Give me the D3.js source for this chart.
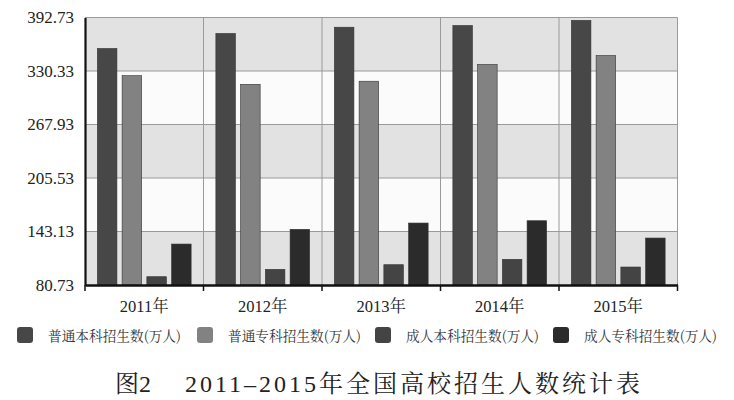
<!DOCTYPE html>
<html><head><meta charset="utf-8">
<script src="https://cdn.jsdelivr.net/npm/d3@7"></script>
<style>body{margin:0;background:#fff}svg{display:block}</style>
</head><body>
<svg id="c" width="734" height="400"></svg>
<script>
const categories = ["2011年","2012年","2013年","2014年","2015年"];
const seriesNames = ["普通本科招生数(万人)","普通专科招生数(万人)","成人本科招生数(万人)","成人专科招生数(万人)"];
const s1 = [356.6, 374.1, 381.4, 383.4, 389.4];
const s2 = [324.9, 314.8, 318.4, 338.0, 348.4];
const s3 = [90.4, 99.0, 104.4, 110.7, 101.7];
const s4 = [128.5, 145.7, 153.0, 155.7, 135.5];
const yTicks = [80.73, 143.13, 205.53, 267.93, 330.33, 392.73];
const colors = ["#474747","#828282","#444444","#2b2b2b"];
const series = [s1,s2,s3,s4];

const LAT = "'Liberation Serif', serif";
const CJK = "'Noto Serif CJK SC', 'Liberation Serif', serif";
// split a string into runs of latin / CJK and append tspans with matching fonts
function fillMixed(sel, str){
  sel.text(null);
  const runs = str.match(/[\u2E80-\uFFFF]+|[^\u2E80-\uFFFF]+/g) || [];
  runs.forEach(r=>{
    const cjk = /[\u2E80-\uFFFF]/.test(r);
    sel.append("tspan").style("font-family", cjk ? CJK : LAT).text(r);
  });
}

const svg = d3.select("#c");
const L=85, R=677.5, T=17.5, B=285;
const x = d3.scaleBand().domain(categories).range([L,R]).padding(0);
const xi = d3.scaleBand().domain(d3.range(4)).range([0,x.bandwidth()]).paddingInner(0.21).paddingOuter(0.5);
const y = d3.scaleLinear().domain([80.73,392.73]).range([B,T]);

const g = svg.append("g");
for(let i=0;i<yTicks.length-1;i++){
  g.append("rect").attr("x",L).attr("width",R-L)
   .attr("y",y(yTicks[i+1])).attr("height",y(yTicks[i])-y(yTicks[i+1]))
   .attr("fill", i%2===0 ? "#e2e2e2" : "#fbfbfb");
}
g.selectAll("line.h").data(yTicks.slice(1)).enter().append("line")
 .attr("x1",L).attr("x2",R).attr("y1",d=>y(d)).attr("y2",d=>y(d))
 .attr("stroke","#9a9a9a").attr("stroke-width",1);
g.selectAll("line.v").data(categories.slice(1)).enter().append("line")
 .attr("x1",d=>x(d)).attr("x2",d=>x(d)).attr("y1",T).attr("y2",B)
 .attr("stroke","#9a9a9a").attr("stroke-width",1);
g.append("line").attr("x1",R).attr("x2",R).attr("y1",T).attr("y2",B).attr("stroke","#9a9a9a");

categories.forEach((c,ci)=>{
  series.forEach((s,si)=>{
    svg.append("rect").attr("x",x(c)+xi(si)).attr("width",xi.bandwidth())
      .attr("y",y(s[ci])).attr("height",B-y(s[ci]))
      .attr("fill",colors[si]).attr("stroke","#333").attr("stroke-width",0.6);
  });
});

const ya = svg.append("g").attr("transform",`translate(${L},0)`)
  .call(d3.axisLeft(y).tickValues(yTicks).tickSize(0).tickPadding(11).tickFormat(d=>d.toFixed(2)));
ya.attr("font-family",null).attr("font-size",null);
ya.select(".domain").attr("stroke","#111").attr("stroke-width",2.2);
ya.selectAll("text").style("font-family",LAT).style("font-size","17px").attr("fill","#222");

const xa = svg.append("g").attr("transform",`translate(0,${B})`)
  .call(d3.axisBottom(x).tickSize(0).tickPadding(15));
xa.attr("font-family",null).attr("font-size",null);
xa.select(".domain").attr("stroke","#111").attr("stroke-width",2.4);
xa.selectAll("text").style("font-size","16.5px").attr("fill","#222").each(function(d){ fillMixed(d3.select(this), d); });
const bounds = categories.map(c=>x(c)).concat([R]);
xa.selectAll("line.tk").data(bounds).enter().append("line")
  .attr("x1",d=>d).attr("x2",d=>d).attr("y1",0).attr("y2",6).attr("stroke","#111").attr("stroke-width",1.5);

const legX = [17, 197, 375, 553];
seriesNames.forEach((n,i)=>{
  svg.append("rect").attr("x",legX[i]).attr("y",327).attr("width",16).attr("height",16).attr("rx",3)
    .attr("fill",colors[i]);
  svg.append("text").attr("x",legX[i]+31).attr("y",341).text(n)
    .style("font-family",CJK).style("font-size","14px").attr("fill","#333")
    .attr("textLength",133).attr("lengthAdjust","spacingAndGlyphs");
});

const t1 = svg.append("text").attr("x",115).attr("y",392).style("font-size","24px").attr("fill","#222");
fillMixed(t1, "图2");
const t2 = svg.append("text").attr("x",185).attr("y",392).style("font-size","24px").attr("fill","#222")
  .attr("textLength",455).attr("lengthAdjust","spacing");
fillMixed(t2, "2011–2015年全国高校招生人数统计表");
</script>
</body></html>
